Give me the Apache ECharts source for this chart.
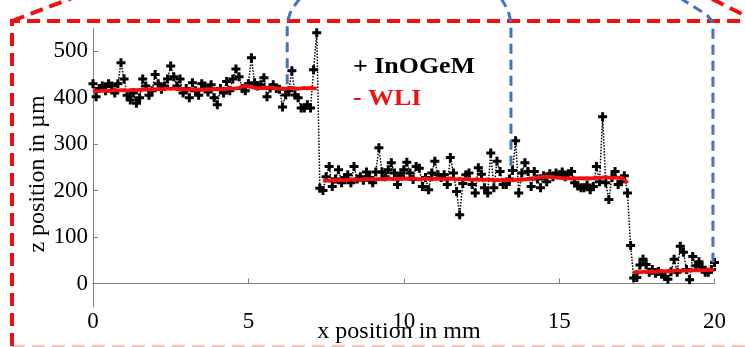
<!DOCTYPE html>
<html><head><meta charset="utf-8">
<script src="https://cdn.jsdelivr.net/npm/echarts@6/dist/echarts.min.js"></script>
<style>html,body{margin:0;padding:0;background:#fff}#c{width:745px;height:347px}</style>
</head><body><div id="c"></div>
<script>
// ---- data (x sampled every 0.1 mm from 0 to 20 mm) ----
const xStart = 0, xStep = 0.1;
const xTicks = [0, 5, 10, 15, 20];
const yTicks = [0, 100, 200, 300, 400, 500];
const seriesNames = ['InOGeM', 'WLI'];
const xName = 'x position in mm';
const yName = 'z position in \u00b5m';

// InOGeM, upper step (x 0.0 - 7.2)
const inogemStep1 = [
  430,402,420,425,415,430,425,410,430,475,
  440,405,395,410,388,400,440,425,405,415,
  450,430,418,425,440,468,445,425,440,410,
  420,400,432,415,405,430,425,412,428,400,
  385,420,410,435,415,440,462,445,420,415,
  430,486,432,425,428,443,402,421,428,420,
  418,380,406,415,458,406,400,378,378,385,
  378,460,540
];
// InOGeM, middle step (x 7.3 - 17.3)
const inogemStep2 = [
  205,200,230,252,209,225,245,
  217,228,234,217,252,225,230,222,240,228,
  217,240,292,240,230,245,260,238,213,232,
  245,261,238,224,252,248,209,228,202,238,
  263,234,228,234,213,271,238,198,148,215,
  234,238,213,195,249,235,206,195,281,206,
  263,241,213,213,225,243,307,195,238,260,
  241,209,241,225,206,232,219,236,230,238,
  234,240,230,236,241,217,210,206,206,212,
  202,209,252,219,359,217,181,228,241,213,
  219,232,195,82
];
// InOGeM, lower step (x 17.4 - 20.0)
const inogemStep3 = [
  12,13,40,52,41,24,30,22,26,20,15,9,25,52,24,80,67,30,8,58,38,47,35,24,24,30,45
];

// WLI (null = no measurement at the step edges)
const wliStep1 = [
  415,414,414,415,415,414,415,416,415,416,
  416,415,416,417,416,417,417,418,417,418,
  418,419,418,419,420,419,420,419,418,419,
  418,417,418,417,418,417,418,417,418,419,
  418,419,418,419,420,419,420,421,424,426,
  425,423,421,420,421,420,421,422,421,420,
  419,420,419,420,421,420,419,420,421,420,
  421,420,420
];
const wliStep2 = [
  null,221,222,221,222,223,222,
  223,222,223,224,223,224,223,224,225,224,
  225,224,225,224,225,226,225,224,225,226,
  225,226,225,226,225,224,225,226,225,224,
  225,226,225,224,225,226,225,224,225,224,
  225,224,223,224,223,224,223,224,223,222,
  223,222,223,222,223,222,223,224,223,224,
  225,226,227,228,229,230,229,230,229,228,
  228,227,226,227,226,227,226,227,226,227,
  226,227,228,227,228,229,228,227,228,228,
  227,224,216,null
];
const wliStep3 = [
  24,25,24,25,26,25,26,25,26,27,26,27,26,27,28,27,28,27,28,29,28,29,28,29,30,29,30
];

// annotation anchors (data coords where the blue guide lines end)
const guideX = [6.25, 13.45, 19.95];
const guideZ = [420, 240, 45];

// ---- build ----
const inogem = [...inogemStep1, ...inogemStep2, ...inogemStep3];
const wli = [...wliStep1, ...wliStep2, ...wliStep3];
const toPairs = arr => arr.map((v, i) => [Math.round((xStart + i * xStep) * 100) / 100, v]);

const FONT = "'Liberation Serif','Times New Roman',serif";
const chart = echarts.init(document.getElementById('c'), null, {renderer: 'canvas'});
const plus = 'path://M3,0H6V3H9V6H6V9H3V6H0V3H3Z';

chart.setOption({
  animation: false,
  backgroundColor: '#fff',
  grid: {left: 93, right: 30.5, top: 28, bottom: 40.3, containLabel: false, outerBoundsMode: 'none'},
  xAxis: {
    type: 'value', min: 0, max: 20, interval: 5,
    axisLine: {lineStyle: {color: '#808080', width: 1}},
    axisTick: {inside: true, length: 5, lineStyle: {color: '#808080'}},
    axisLabel: {color: '#000', fontFamily: FONT, fontSize: 23, margin: 4},
    splitLine: {show: false}
  },
  yAxis: {
    type: 'value', min: -50, max: 550, interval: 50,
    axisLine: {show: true, lineStyle: {color: '#808080', width: 1}},
    axisTick: {show: true, inside: true, length: 5, lineStyle: {color: '#808080'}, customValues: yTicks},
    axisLabel: {color: '#000', fontFamily: FONT, fontSize: 23, margin: 5, customValues: yTicks},
    splitLine: {show: false}
  },
  series: [
    {
      name: seriesNames[0], type: 'line', data: toPairs(inogem),
      symbol: plus, symbolSize: 9, showSymbol: true,
      itemStyle: {color: '#000'},
      lineStyle: {color: '#000', width: 1.5, type: [1.5, 1.5]},
      z: 2
    },
    {
      name: seriesNames[1], type: 'line', data: toPairs(wli),
      symbol: 'none', connectNulls: false,
      lineStyle: {color: '#f01010', width: 3.8},
      z: 3
    }
  ]
});

const p = guideX.map((x, i) => chart.convertToPixel({gridIndex: 0}, [x, guideZ[i]]));
const blue = {stroke: '#4472c4', lineWidth: 3, lineDash: [10, 6], fill: null};
const red = {stroke: '#f01010', lineWidth: 4, lineDash: [13, 7], fill: null};
const bold = "bold 24px 'Liberation Serif','Times New Roman',serif";
const reg = "24px 'Liberation Serif','Times New Roman',serif";

chart.setOption({
  graphic: [
    {type: 'polyline', z: 100, shape: {points: [[12, 346], [12, 21], [748, 21]]}, style: red},
    {type: 'line', z: 100, shape: {x1: 12, y1: 21, x2: 72, y2: -2}, style: red},
    {type: 'line', z: 100, shape: {x1: 712, y1: -1, x2: 748, y2: 17}, style: red},
    {type: 'line', z: 99, shape: {x1: 12, y1: 346, x2: 745, y2: 346}, style: {stroke: '#ffc0c0', lineWidth: 2, lineDash: [13, 7]}},
    {type: 'polyline', z: 101, shape: {points: [[p[0][0] + 13, -2], [p[0][0] + 4, 10], [p[0][0], 22], p[0]]}, style: blue},
    {type: 'polyline', z: 101, shape: {points: [[p[1][0] - 10, -2], [p[1][0] - 3, 10], [p[1][0], 22], p[1]]}, style: blue},
    {type: 'polyline', z: 101, shape: {points: [[p[2][0] - 33, -2], [p[2][0] - 6, 15], [p[2][0], 22], p[2]]}, style: blue},
    {type: 'text', z: 102, x: 38, y: 174, rotation: Math.PI / 2,
      style: {text: yName, font: reg, fill: '#000', align: 'center', verticalAlign: 'middle'}},
    {type: 'text', z: 102, x: 399, y: 332,
      style: {text: xName, font: reg, fill: '#000', align: 'center', verticalAlign: 'middle'}},
    {type: 'text', z: 102, x: 353, y: 55, scaleX: 1.08, style: {text: '+ ' + seriesNames[0], font: bold, fill: '#000'}},
    {type: 'text', z: 102, x: 353, y: 87, scaleX: 1.08, style: {text: '- ' + seriesNames[1], font: bold, fill: '#f01010'}}
  ]
});
</script>
</body></html>
